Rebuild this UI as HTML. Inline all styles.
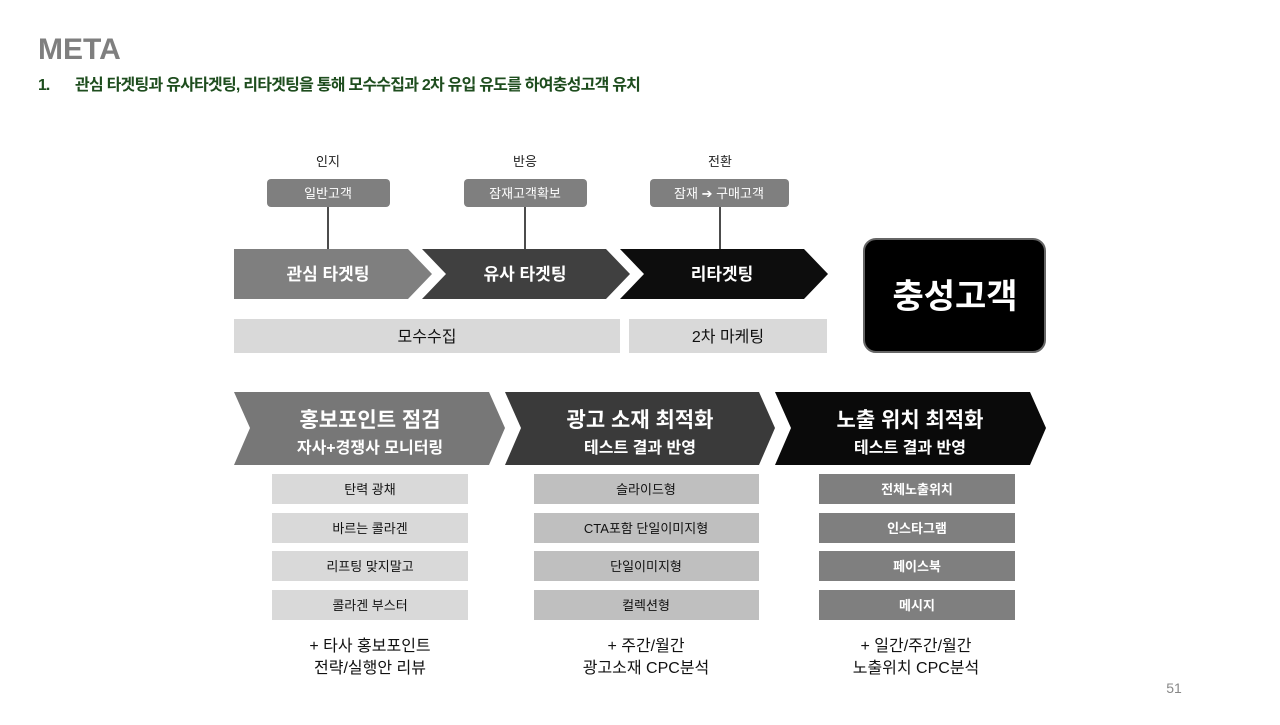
<!DOCTYPE html>
<html><head><meta charset="utf-8"><style>
body{margin:0;background:#fff;}
svg text{font-family:"Liberation Sans","Noto Sans CJK KR",sans-serif;}
</style></head><body>
<svg width="1280" height="720" xmlns="http://www.w3.org/2000/svg">
<rect width="1280" height="720" fill="#fff"/>
<text x="38" y="59" font-size="30" fill="#7f7f7f" font-weight="bold">META</text>
<text x="38" y="90" font-size="16" fill="#1e4d1e" font-weight="bold" letter-spacing="-1">1.</text>
<text x="75" y="90" font-size="16" fill="#1e4d1e" font-weight="bold" letter-spacing="-0.9" textLength="565">관심 타겟팅과 유사타겟팅, 리타겟팅을 통해 모수수집과 2차 유입 유도를 하여충성고객 유치</text>

<g font-size="13" text-anchor="middle" fill="#222">
<text x="328" y="166">인지</text><text x="525" y="166">반응</text><text x="720" y="166">전환</text>
</g>
<rect x="267" y="179" width="123" height="28" rx="4" fill="#7f7f7f"/>
<rect x="464" y="179" width="123" height="28" rx="4" fill="#7f7f7f"/>
<rect x="650" y="179" width="139" height="28" rx="4" fill="#7f7f7f"/>
<g font-size="13" text-anchor="middle" fill="#fff">
<text x="328" y="198">일반고객</text><text x="525" y="198">잠재고객확보</text><text x="719" y="198">잠재 ➔ 구매고객</text>
</g>
<g stroke="#111" stroke-width="1.5"><line x1="328" y1="207" x2="328" y2="249"/><line x1="525" y1="207" x2="525" y2="249"/><line x1="720" y1="207" x2="720" y2="249"/></g>

<polygon points="234,249 408,249 432,274 408,299 234,299" fill="#7f7f7f"/>
<polygon points="422,249 606,249 630,274 606,299 422,299 446,274" fill="#404040"/>
<polygon points="620,249 804,249 828,274 804,299 620,299 644,274" fill="#0d0d0d"/>
<g font-size="17" font-weight="bold" fill="#fff" text-anchor="middle">
<text x="328" y="280">관심 타겟팅</text><text x="525" y="280">유사 타겟팅</text><text x="722" y="280">리타겟팅</text>
</g>
<rect x="234" y="319" width="386" height="34" fill="#d9d9d9"/>
<rect x="629" y="319" width="198" height="34" fill="#d9d9d9"/>
<g font-size="16" fill="#111" text-anchor="middle"><text x="427" y="342">모수수집</text><text x="728" y="342">2차 마케팅</text></g>

<rect x="864" y="239" width="181" height="113" rx="12" fill="#000" stroke="#666" stroke-width="2"/>
<text x="955" y="308" font-size="34" font-weight="bold" fill="#fff" text-anchor="middle">충성고객</text>

<polygon points="234,392 489,392 505,428 489,465 234,465 250,428" fill="#777"/>
<polygon points="505,392 759,392 775,428 759,465 505,465 521,428" fill="#3a3a3a"/>
<polygon points="775,392 1030,392 1046,428 1030,465 775,465 791,428" fill="#0a0a0a"/>
<g fill="#fff" text-anchor="middle" font-weight="bold">
<text x="370" y="427" font-size="21">홍보포인트 점검</text><text x="370" y="453" font-size="16">자사+경쟁사 모니터링</text>
<text x="640" y="427" font-size="21">광고 소재 최적화</text><text x="640" y="453" font-size="16">테스트 결과 반영</text>
<text x="910" y="427" font-size="21">노출 위치 최적화</text><text x="910" y="453" font-size="16">테스트 결과 반영</text>
</g>

<g fill="#d9d9d9"><rect x="272" y="474" width="196" height="30"/><rect x="272" y="513" width="196" height="30"/><rect x="272" y="551" width="196" height="30"/><rect x="272" y="590" width="196" height="30"/></g>
<g fill="#bfbfbf"><rect x="534" y="474" width="225" height="30"/><rect x="534" y="513" width="225" height="30"/><rect x="534" y="551" width="225" height="30"/><rect x="534" y="590" width="225" height="30"/></g>
<g fill="#7f7f7f"><rect x="819" y="474" width="196" height="30"/><rect x="819" y="513" width="196" height="30"/><rect x="819" y="551" width="196" height="30"/><rect x="819" y="590" width="196" height="30"/></g>
<g font-size="13" text-anchor="middle" fill="#111">
<text x="370" y="494">탄력 광채</text><text x="370" y="533">바르는 콜라겐</text><text x="370" y="571">리프팅 맞지말고</text><text x="370" y="610">콜라겐 부스터</text>
<text x="646" y="494">슬라이드형</text><text x="646" y="533">CTA포함 단일이미지형</text><text x="646" y="571">단일이미지형</text><text x="646" y="610">컬렉션형</text>
</g>
<g font-size="13" text-anchor="middle" fill="#fff" font-weight="bold">
<text x="917" y="494">전체노출위치</text><text x="917" y="533">인스타그램</text><text x="917" y="571">페이스북</text><text x="917" y="610">메시지</text>
</g>
<g font-size="16" text-anchor="middle" fill="#111">
<text x="370" y="651">+ 타사 홍보포인트</text><text x="370" y="673">전략/실행안 리뷰</text>
<text x="646" y="651">+ 주간/월간</text><text x="646" y="673">광고소재 CPC분석</text>
<text x="916" y="651">+ 일간/주간/월간</text><text x="916" y="673">노출위치 CPC분석</text>
</g>
<text x="1174" y="693" font-size="14" fill="#888" text-anchor="middle">51</text>
</svg>
</body></html>
